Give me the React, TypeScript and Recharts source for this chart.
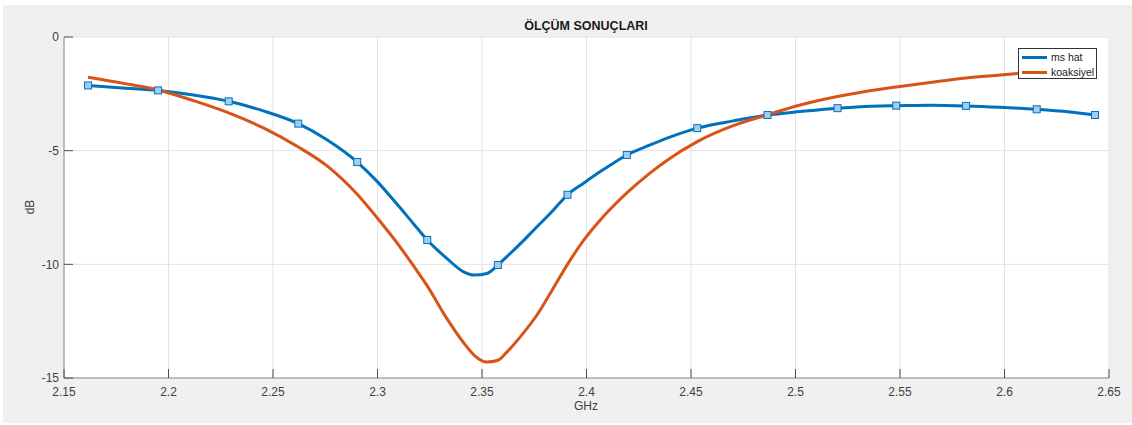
import React from 'react'
import { LineChart, Line, XAxis, YAxis, CartesianGrid } from 'recharts'

// frekans noktaları (GHz)
const freqGHz = [
  2.1615, 2.178, 2.195, 2.212, 2.2288, 2.2454, 2.2621, 2.276, 2.2903, 2.2998,
  2.3093, 2.3171, 2.3238, 2.3333, 2.3412, 2.3463, 2.3524, 2.3576, 2.362, 2.3683,
  2.3763, 2.3841, 2.3909, 2.3986, 2.4066, 2.4113, 2.4193, 2.4305, 2.4386, 2.453,
  2.4702, 2.4866, 2.5023, 2.5201, 2.5405, 2.5482, 2.5644, 2.5816, 2.5979, 2.6154,
  2.6313, 2.6433,
]

// ms hat ölçümü (dB)
const msHat = [
  -2.13, -2.24, -2.35, -2.55, -2.83, -3.25, -3.81, -4.53, -5.5, -6.35,
  -7.35, -8.2, -8.93, -9.75, -10.33, -10.47, -10.4, -10.03, -9.65, -9.1,
  -8.35, -7.62, -6.94, -6.43, -5.92, -5.64, -5.19, -4.75, -4.45, -4.01,
  -3.69, -3.43, -3.28, -3.13, -3.03, -3.02, -3.0, -3.03, -3.09, -3.18,
  -3.3, -3.43,
]

// koaksiyel ölçümü (dB)
const koaksiyel = [
  -1.77, -2.03, -2.33, -2.8, -3.34, -4.0, -4.84, -5.68, -6.92, -7.95,
  -9.05, -10.05, -10.95, -12.4, -13.45, -14.0, -14.3, -14.22, -13.85, -13.19,
  -12.23, -11.05, -10.0, -8.95, -8.05, -7.58, -6.86, -5.98, -5.42, -4.6,
  -3.9, -3.42, -2.99, -2.62, -2.3, -2.2, -2.0, -1.8, -1.67, -1.53,
  -1.42, -1.35,
]

// ms hat eğrisinde kare işaret olan noktalar
const markerIndices = [0, 2, 4, 6, 8, 12, 17, 22, 26, 29, 31, 33, 35, 37, 39, 41]

const xTicks = [2.15, 2.2, 2.25, 2.3, 2.35, 2.4, 2.45, 2.5, 2.55, 2.6, 2.65]
const yTicks = [-15, -10, -5, 0]

const FONT = '"Liberation Sans", Arial, Helvetica, sans-serif'
const BLUE = '#0072bd'
const ORANGE = '#d95319'

const data = freqGHz.map((f, i) => ({ f, ms: msHat[i], koak: koaksiyel[i] }))

// MATLAB gibi içe dönük tik çizgileri
const XTick = (props: any) => {
  const { x, y, payload } = props
  return (
    <g>
      <line x1={x} y1={y} x2={x} y2={y - 9} stroke="#4d4d4d" strokeWidth={1} />
      <text x={x} y={y + 17.5} textAnchor="middle" fontSize={12} fill="#404040" fontFamily={FONT}>
        {payload.value}
      </text>
    </g>
  )
}

const YTick = (props: any) => {
  const { x, y, payload } = props
  return (
    <g>
      <line x1={x} y1={y} x2={x + 9} y2={y} stroke="#4d4d4d" strokeWidth={1} />
      <text x={x - 5} y={y + 4.3} textAnchor="end" fontSize={12} fill="#404040" fontFamily={FONT}>
        {payload.value}
      </text>
    </g>
  )
}

const SquareDot = (props: any) => {
  const { cx, cy, index } = props
  if (!markerIndices.includes(index)) return <g key={`d${index}`} />
  return (
    <rect
      key={`d${index}`}
      x={cx - 3.5}
      y={cy - 3.5}
      width={7}
      height={7}
      fill="#a3cdee"
      stroke={BLUE}
      strokeWidth={1}
    />
  )
}

export default function App() {
  return (
    <div style={{ position: 'absolute', left: 0, top: 0, width: 1132, height: 425, background: '#fff', fontFamily: FONT }}>
      <div style={{ position: 'absolute', left: 3, top: 5, width: 1129, height: 418, background: '#f0f0f0' }} />

      <LineChart
        width={1132}
        height={425}
        data={data}
        margin={{ top: 37, right: 23, bottom: 17, left: 14 }}
        style={{ position: 'absolute', left: 0, top: 0 }}
      >
        <CartesianGrid stroke="#e3e3e3" fill="#ffffff" />
        <XAxis
          dataKey="f"
          type="number"
          domain={[2.15, 2.65]}
          ticks={xTicks}
          height={30}
          tickSize={0}
          tickMargin={0}
          tickLine={false}
          axisLine={{ stroke: '#8c8c8c' }}
          tick={<XTick />}
          interval={0}
        />
        <YAxis
          type="number"
          domain={[-15, 0]}
          ticks={yTicks}
          width={50}
          tickSize={0}
          tickMargin={0}
          tickLine={false}
          axisLine={{ stroke: '#8c8c8c' }}
          tick={<YTick />}
          interval={0}
        />
        <Line type="monotone" dataKey="ms" stroke={BLUE} strokeWidth={3} dot={false} isAnimationActive={false} />
        <Line type="monotone" dataKey="koak" stroke={ORANGE} strokeWidth={3} dot={false} isAnimationActive={false} />
        {/* işaretler en üstte */}
        <Line type="monotone" dataKey="ms" stroke="none" dot={SquareDot} activeDot={false} isAnimationActive={false} />
      </LineChart>

      {/* başlık ve eksen etiketleri */}
      <div style={{ position: 'absolute', left: 586, top: 19, transform: 'translateX(-50%)', fontSize: 12.5, fontWeight: 'bold', color: '#1a1a1a', whiteSpace: 'nowrap', lineHeight: '15px' }}>
        ÖLÇÜM SONUÇLARI
      </div>
      <div style={{ position: 'absolute', left: 586, top: 399, transform: 'translateX(-50%)', fontSize: 12, color: '#404040', lineHeight: '15px' }}>
        GHz
      </div>
      <div style={{ position: 'absolute', left: 30, top: 207, transform: 'translate(-50%, -50%) rotate(-90deg)', fontSize: 12, color: '#404040', lineHeight: '15px' }}>
        dB
      </div>

      {/* lejant */}
      <div style={{ position: 'absolute', left: 1018, top: 48, width: 77, height: 29, background: '#fff', border: '1px solid #333', fontSize: 10.5, color: '#1a1a1a' }}>
        {[{ name: 'ms hat', color: BLUE }, { name: 'koaksiyel', color: ORANGE }].map((item, i) => (
          <div key={item.name} style={{ position: 'absolute', left: 0, top: 1 + i * 15, height: 15, display: 'flex', alignItems: 'center' }}>
            <div style={{ marginLeft: 3, width: 25, height: 3, background: item.color }} />
            <span style={{ marginLeft: 4, lineHeight: '15px' }}>{item.name}</span>
          </div>
        ))}
      </div>
    </div>
  )
}
